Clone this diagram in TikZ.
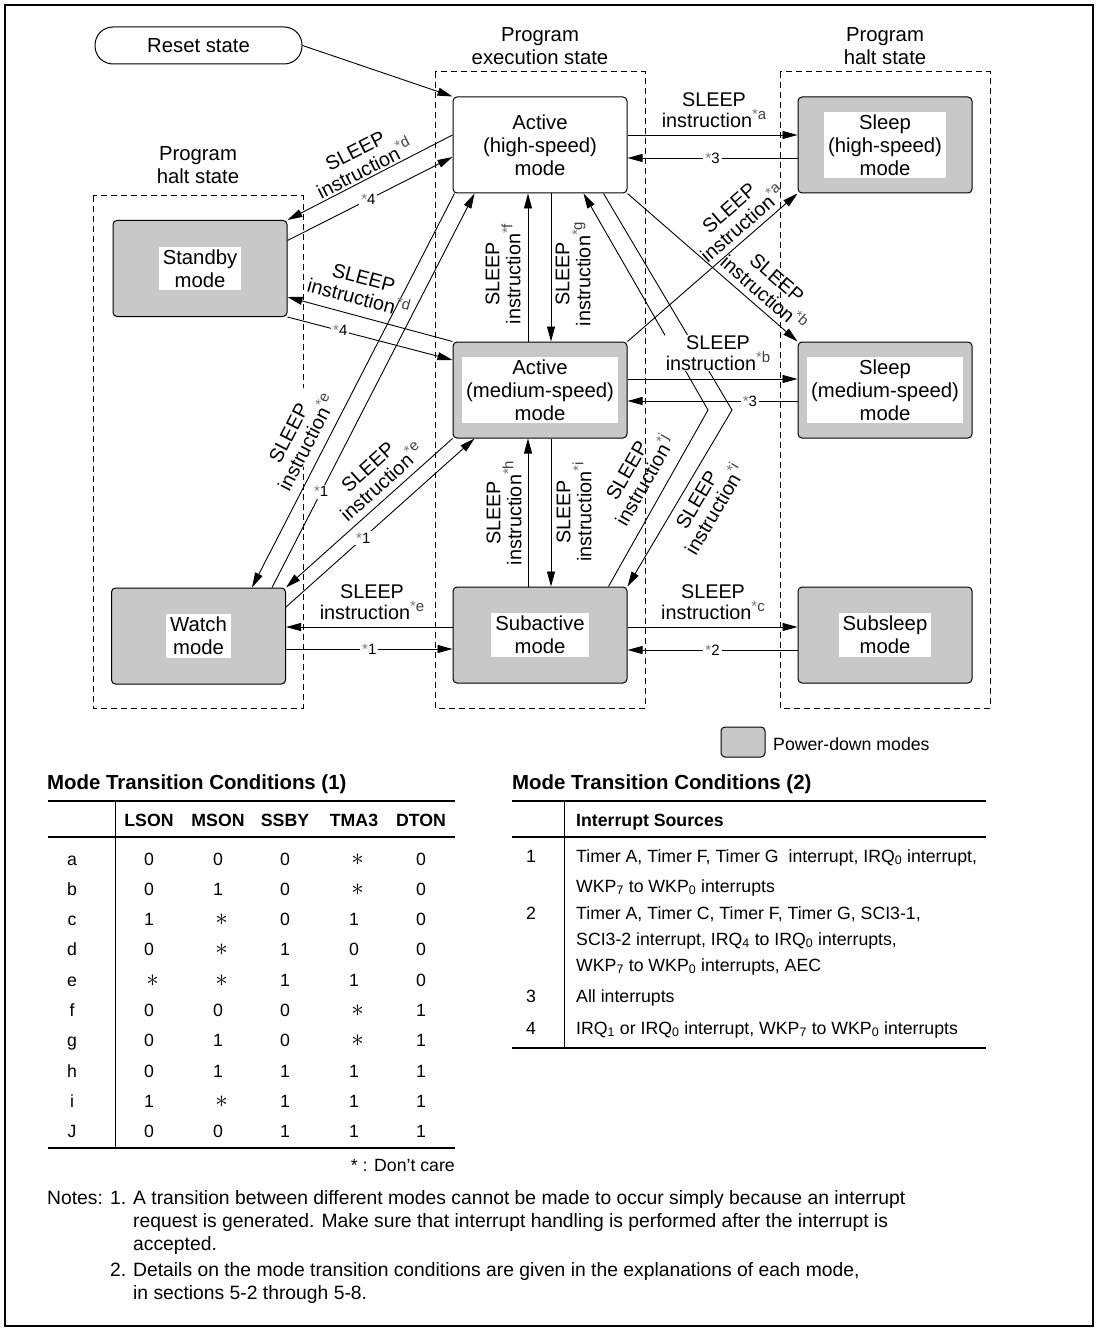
\documentclass[tikz,border=0pt]{standalone}
\usepackage{fontspec}
\setmainfont{Liberation Sans}
\usetikzlibrary{arrows.meta,calc}
\definecolor{pgray}{RGB}{200,200,200}
\definecolor{stargray}{RGB}{120,120,120}
\newcommand\supx[1]{\raisebox{8pt}{\fontsize{15}{15}\selectfont\textcolor{stargray}{*}\textcolor{black!75}{#1}}}
\newcommand\slp[1]{SLEEP\\instruction\supx{#1}}
\newcommand\stn[1]{{\fontsize{15}{15}\selectfont\textcolor{stargray}{*}#1}}
\newcommand\X{\hspace{7pt}{\fontsize{27}{27}\selectfont$\ast$}}
\begin{document}
\begin{tikzpicture}[x=1pt,y=-1pt,
  font=\fontsize{20.3}{23}\selectfont,
  box/.style={draw,line width=1pt,rounded corners=4pt,minimum width=174pt,minimum height=96pt,inner sep=0pt,align=center},
  pbox/.style={box,fill=pgray},
  intext/.style={fill=white,inner xsep=4pt,inner ysep=3pt,align=center},
  arr/.style={line width=0.9pt,-{Triangle[length=15pt,width=8pt]}},
  lab/.style={align=center,inner sep=0.5pt,font=\fontsize{19.8}{21}\selectfont},
  wlab/.style={lab,fill=white},
  star/.style={fill=white,inner sep=2pt,font=\fontsize{15}{15}\selectfont},
  region/.style={draw,dash pattern=on 6pt off 4pt,line width=1pt},
  txt/.style={anchor=base west,inner sep=0pt},
  ctxt/.style={anchor=base,inner sep=0pt},
  tb/.style={font=\fontsize{17.7}{21}\selectfont},
  tbb/.style={font=\fontsize{17.7}{21}\selectfont\bfseries},
  ttl/.style={txt,font=\fontsize{20.4}{23}\selectfont\bfseries},
  rule/.style={line width=1.3pt}
]
\useasboundingbox (0,0) rectangle (1098,1332);
\draw[line width=1.2pt] (5,5) rectangle (1093,1326);

% regions
\draw[region] (435,72) rectangle (645,708);
\draw[region] (780,72) rectangle (990,708);
\draw[region] (93,196) rectangle (303,708);
\node[align=center,inner sep=0pt] (lexec) at (540,46) {Program\\execution state};
\node[align=center,inner sep=0pt] (lhr) at (885,46) {Program\\halt state};
\node[align=center,inner sep=0pt] (lhl) at (198,165) {Program\\halt state};

% mode nodes
\node[draw,line width=1pt,rounded corners=18pt,minimum width=207pt,minimum height=37pt,inner sep=0pt] (rs) at (198.5,45.5) {Reset state};
\node[box,fill=white] (ah) at (540,145) {Active\\(high-speed)\\mode};
\node[pbox] (sh) at (885,145) {};
\node[intext] (sht) at (sh) {Sleep\\(high-speed)\\mode};
\node[pbox] (sb) at (200,268.5) {};
\node[intext] (sbt) at (sb) {Standby\\mode};
\node[pbox] (am) at (540,390) {};
\node[intext] (amt) at (am) {Active\\(medium-speed)\\mode};
\node[pbox] (sm) at (885,390) {};
\node[intext] (smt) at (sm) {Sleep\\(medium-speed)\\mode};
\node[pbox] (wa) at (198.5,636) {};
\node[intext] (wat) at (wa) {Watch\\mode};
\node[pbox] (sa) at (540,635) {};
\node[intext] (sat) at (sa) {Subactive\\mode};
\node[pbox] (ss) at (885,635) {};
\node[intext] (sst) at (ss) {Subsleep\\mode};

% horizontal connectors
\draw[arr] (rs.east) -- (ah.north west);
\draw[arr] ($(ah.east)+(0,-10)$) -- ($(sh.west)+(0,-10)$);
\draw[arr] ($(sh.west)+(0,13)$) -- node[star]{\stn{3}} ($(ah.east)+(0,13)$);
\draw[arr] ($(am.east)+(0,-11)$) -- ($(sm.west)+(0,-11)$);
\draw[arr] ($(sm.west)+(0,11)$) -- node[star,pos=0.28]{\stn{3}} ($(am.east)+(0,11)$);
\draw[arr] ($(sa.east)+(0,-8)$) -- ($(ss.west)+(0,-8)$);
\draw[arr] ($(ss.west)+(0,15)$) -- node[star]{\stn{2}} ($(sa.east)+(0,15)$);
\draw[arr] ($(sa.west)+(0,-8)$) -- ($(wa.east)+(0,-9)$);
\draw[arr] ($(wa.east)+(0,13)$) -- node[star]{\stn{1}} ($(sa.west)+(0,14)$);

% vertical connectors
\draw[arr] ($(am.north)+(-12,0)$) -- ($(ah.south)+(-12,0)$);
\draw[arr] ($(ah.south)+(11,0)$) -- ($(am.north)+(11,0)$);
\draw[arr] ($(sa.north)+(-12,0)$) -- ($(am.south)+(-12,0)$);
\draw[arr] ($(am.south)+(11,0)$) -- ($(sa.north)+(11,0)$);

% diagonal connectors
\draw[arr] ($(ah.west)+(0,-10)$) -- (sb.north east);
\draw[arr] ($(sb.east)+(0,-28)$) -- node[star,pos=0.49]{\stn{4}} ($(ah.west)+(0,12)$);
\draw[arr] (am.north west) -- ($(sb.east)+(0,28.5)$);
\draw[arr] (sb.south east) -- node[star,pos=0.32]{\stn{4}} ($(am.west)+(0,-30)$);
\draw[arr] ($(ah.south west)+(2,0)$) -- ($(wa.north)+(53.5,0)$);
\draw[arr] ($(wa.north)+(73.5,0)$) -- node[star,pos=0.243]{\stn{1}} ($(ah.south west)+(22,0)$);
\draw[arr] (am.south west) -- (wa.north east);
\draw[arr] ($(wa.east)+(0,-29)$) -- node[star,pos=0.41]{\stn{1}} ($(am.south west)+(22,0)$);
\draw[arr] (am.north east) -- (sh.south west);
\draw[arr] (ah.south east) -- (sm.north west);
\coordinate (bj) at (708,410);
\coordinate (bi) at (732,410);
\draw[arr] ($(sa.north east)+(-19,0)$) -- (bj) -- ($(ah.south east)+(-44,0)$);
\draw[arr] ($(ah.south east)+(-24,0)$) -- (bi) -- (sa.north east);

% connector labels
\node[lab] (la1) at (714,110) {\slp{a}};
\node[lab,rotate=27] (ld1) at (360,160) {\slp{d}};
\node[lab,rotate=-15] (ld2) at (361,288) {\slp{d}};
\node[wlab,rotate=62.7] (le1) at (298,438) {\slp{e}};
\node[lab,rotate=42] (le2) at (375,475) {\slp{e}};
\node[lab] (le3) at (372,602) {\slp{e}};
\node[lab,rotate=41] (la2) at (736,216) {\slp{a}};
\node[lab,rotate=-41] (lb2) at (770,286) {\slp{b}};
\node[wlab] (lb1) at (718,353) {\slp{b}};
\node[lab] (lc) at (713,602) {\slp{c}};
\node[lab,rotate=90] (lf) at (503,274) {\slp{f}};
\node[lab,rotate=90] (lg) at (573,274) {\slp{g}};
\node[lab,rotate=90] (lh) at (504,513) {\slp{h}};
\node[lab,rotate=90] (li) at (574,512) {\slp{i}};
\node[lab,rotate=60.3] (lj) at (636,476) {\slp{j}};
\node[lab,rotate=59.6] (li2) at (706,505) {\slp{i}};

% legend
\node[draw,fill=pgray,rounded corners=4pt,line width=1pt,minimum width=44pt,minimum height=30pt,inner sep=0pt] (pdm) at (743,742) {};
\node[txt,tb] (pdmt) at (773,750) {Power-down modes};

% table 1
\node[ttl] (t1) at (47,789) {Mode Transition Conditions (1)};
\draw[rule] (48,801) -- (455,801);
\draw[rule] (48,837) -- (455,837);
\draw[rule] (48,1148) -- (455,1148);
\draw[line width=1pt] (115,801) -- (115,1148);
\foreach \h/\xx [count=\c] in {LSON/149,MSON/218,SSBY/285,TMA3/354,DTON/421}
  \node[ctxt,tbb] (h-\c) at (\xx,826) {\h};
\foreach \rl/\va/\vb/\vc/\vd/\ve [count=\i from 0] in
 {a/0/0/0/\X/0, b/0/1/0/\X/0, c/1/\X/0/1/0, d/0/\X/1/0/0, e/\X/\X/1/1/0,
  f/0/0/0/\X/1, g/0/1/0/\X/1, h/0/1/1/1/1, i/1/\X/1/1/1, J/0/0/1/1/1}
{
  \pgfmathsetmacro\yy{865+30.3*\i}
  \node[ctxt,tb] (r\i) at (72,\yy) {\rl};
  \node[ctxt,tb] (r\i-1) at (149,\yy) {\va};
  \node[ctxt,tb] (r\i-2) at (218,\yy) {\vb};
  \node[ctxt,tb] (r\i-3) at (285,\yy) {\vc};
  \node[ctxt,tb] (r\i-4) at (354,\yy) {\vd};
  \node[ctxt,tb] (r\i-5) at (421,\yy) {\ve};
}
\node[anchor=base east,inner sep=0pt,tb] (dc) at (455,1171) {* : Don't care};

% table 2
\node[ttl] (t2) at (512,789) {Mode Transition Conditions (2)};
\draw[rule] (512,801) -- (986,801);
\draw[rule] (512,837) -- (986,837);
\draw[rule] (512,1048) -- (986,1048);
\draw[line width=1pt] (564,801) -- (564,1048);
\node[txt,tbb] (h2) at (576,826) {Interrupt Sources};
\node[ctxt,tb] (n1) at (531,862) {1};
\node[ctxt,tb] (n2) at (531,919) {2};
\node[ctxt,tb] (n3) at (531,1002) {3};
\node[ctxt,tb] (n4) at (531,1034) {4};
\node[txt,tb] (s1a) at (576,862) {Timer A, Timer F, Timer G\ \ interrupt, IRQ\textsubscript{0} interrupt,};
\node[txt,tb] (s1b) at (576,892) {WKP\textsubscript{7} to WKP\textsubscript{0} interrupts};
\node[txt,tb] (s2a) at (576,919) {Timer A, Timer C, Timer F, Timer G, SCI3-1,};
\node[txt,tb] (s2b) at (576,945) {SCI3-2 interrupt, IRQ\textsubscript{4} to IRQ\textsubscript{0} interrupts,};
\node[txt,tb] (s2c) at (576,971) {WKP\textsubscript{7} to WKP\textsubscript{0} interrupts, AEC};
\node[txt,tb] (s3) at (576,1002) {All interrupts};
\node[txt,tb] (s4) at (576,1034) {IRQ\textsubscript{1} or IRQ\textsubscript{0} interrupt, WKP\textsubscript{7} to WKP\textsubscript{0} interrupts};

% notes
\begin{scope}[font=\fontsize{19.3}{23}\selectfont]
\node[txt] (nt) at (47,1204) {Notes:};
\node[txt] (nt1) at (110,1204) {1.};
\node[txt] (nt1a) at (133,1204) {A transition between different modes cannot be made to occur simply because an interrupt};
\node[txt] (nt1b) at (133,1227) {request is generated. Make sure that interrupt handling is performed after the interrupt is};
\node[txt] (nt1c) at (133,1250) {accepted.};
\node[txt] (nt2) at (110,1276) {2.};
\node[txt] (nt2a) at (133,1276) {Details on the mode transition conditions are given in the explanations of each mode,};
\node[txt] (nt2b) at (133,1299) {in sections 5-2 through 5-8.};
\end{scope}
\end{tikzpicture}
\end{document}
